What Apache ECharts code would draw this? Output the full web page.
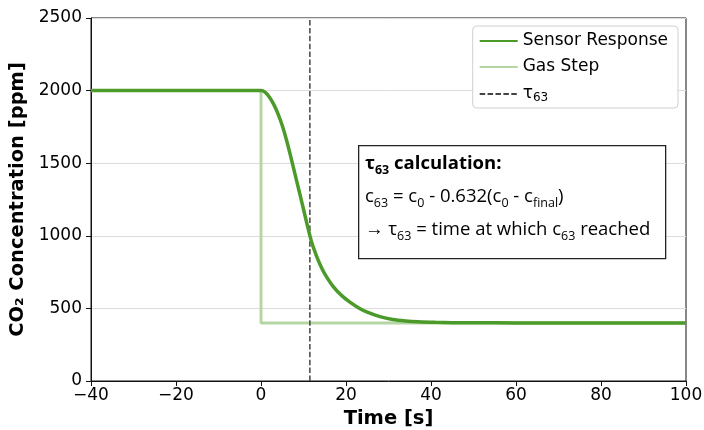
<!DOCTYPE html>
<html>
<head>
<meta charset="utf-8">
<script src="https://cdn.jsdelivr.net/npm/echarts@6/dist/echarts.min.js"></script>
<style>
  html, body { margin: 0; padding: 0; background: #fff; }
  #chart { width: 704px; height: 430px; }
</style>
</head>
<body>
<div id="chart"></div>
<script>
// sensor response (time [s], CO2 [ppm])
const sensorTime = [-40, -1, 0, 1, 2, 3, 4, 5, 6, 7, 8, 9, 10, 11, 12, 13, 14, 15, 17, 19, 21, 23, 25, 28, 31, 34, 37, 41, 45, 50, 60, 80, 100];
const sensorPpm = [2000, 2000, 2000, 1988, 1955, 1905, 1840, 1760, 1660, 1545, 1425, 1305, 1183, 1060, 948, 866, 796, 738, 650, 588, 541, 503, 474, 443, 424, 414, 408, 404, 402, 401, 400, 400, 400];

// gas step
const stepTime = [-40, 0, 0, 100];
const stepPpm = [2000, 2000, 400, 400];

// tau63 marker
const tau63 = 11.5;
const yMin = 0;
const yMax = 2500;

const FONT = "DejaVu Sans";
const BOX_FONT = "Open Sans";

const chart = echarts.init(document.getElementById("chart"));

const zip = (xs, ys) => xs.map((x, i) => [x, ys[i]]);

// rich text styles for the annotation box
const sub = (size, bold) => ({
  fontFamily: BOX_FONT,
  fontSize: size,
  fontWeight: bold ? "bold" : "normal",
  color: "#000",
  lineHeight: 13,
  verticalAlign: "bottom",
});
const main = (size, bold) => ({
  fontFamily: BOX_FONT,
  fontSize: size,
  fontWeight: bold ? "bold" : "normal",
  color: "#000",
  lineHeight: 26,
  verticalAlign: "middle",
});

const option = {
  animation: false,
  backgroundColor: "#fff",
  grid: {
    left: 91,
    right: 18,
    top: 18,
    bottom: 49,
    show: true,
    borderColor: "#111",
    borderWidth: 1,
    containLabel: false,
    outerBoundsMode: "none",
  },
  legend: {
    orient: "vertical",
    right: 26,
    top: 26,
    padding: [6, 10, 4, 6],
    itemWidth: 38,
    itemHeight: 14,
    itemGap: 8,
    backgroundColor: "#fff",
    borderColor: "#d0d0d0",
    borderWidth: 1,
    borderRadius: 4,
    itemStyle: { opacity: 0 },
    textStyle: {
      fontFamily: FONT,
      fontSize: 17,
      color: "#000",
      lineHeight: 18,
      rich: {
        t: { fontFamily: FONT, fontSize: 17, color: "#000", lineHeight: 20, verticalAlign: "middle" },
        s: { fontFamily: FONT, fontSize: 12, color: "#000", lineHeight: 10, verticalAlign: "bottom" },
      },
    },
    formatter: (name) => (name === "tau63" ? "{t|τ}{s|63}" : name),
    data: ["Sensor Response", "Gas Step", "tau63"],
  },
  xAxis: {
    type: "value",
    min: -40,
    max: 100,
    interval: 20,
    name: "Time [s]",
    nameLocation: "middle",
    nameGap: 28,
    nameTextStyle: { fontFamily: FONT, fontSize: 19.5, fontWeight: "bold", color: "#000" },
    axisLine: { show: true, onZero: false, lineStyle: { color: "#111", width: 1 } },
    axisTick: { show: true, inside: false, length: 5, lineStyle: { color: "#111" } },
    axisLabel: {
      fontFamily: FONT,
      fontSize: 17,
      color: "#000",
      margin: 6,
      formatter: (v) => (v < 0 ? "\u2212" + Math.abs(v) : String(v)),
    },
    splitLine: { show: false },
  },
  yAxis: {
    type: "value",
    min: yMin,
    max: yMax,
    interval: 500,
    name: "CO\u2082 Concentration [ppm]",
    nameLocation: "middle",
    nameGap: 55,
    nameTextStyle: { fontFamily: FONT, fontSize: 19.5, fontWeight: "bold", color: "#000" },
    axisLine: { show: true, onZero: false, lineStyle: { color: "#111", width: 1 } },
    axisTick: { show: true, inside: false, length: 5, lineStyle: { color: "#111" } },
    axisLabel: {
      fontFamily: FONT,
      fontSize: 17,
      color: "#000",
      margin: 9,
      formatter: (v) => String(v),
    },
    splitLine: { show: true, lineStyle: { color: "#dcdcdc", width: 1 } },
  },
  series: [
    {
      name: "Sensor Response",
      type: "line",
      data: zip(sensorTime, sensorPpm),
      showSymbol: false,
      symbol: "none",
      smooth: 0.3,
      lineStyle: { color: "#4c9a2a", width: 3.5 },
      itemStyle: { color: "#4c9a2a" },
      z: 5,
    },
    {
      name: "Gas Step",
      type: "line",
      data: zip(stepTime, stepPpm),
      showSymbol: false,
      symbol: "none",
      lineStyle: { color: "#b4d6a4", width: 3 },
      itemStyle: { color: "#b4d6a4" },
      z: 3,
    },
    {
      name: "tau63",
      type: "line",
      data: [[tau63, yMin], [tau63, yMax]],
      showSymbol: false,
      symbol: "none",
      lineStyle: { color: "#444", width: 1.5, type: [5.5, 2.4] },
      itemStyle: { color: "#444" },
      z: 4,
    },
  ],
  graphic: [
    {
      type: "rect",
      left: 358,
      top: 145,
      shape: { width: 307, height: 113 },
      style: { fill: "#fff", stroke: "#222", lineWidth: 1.3 },
      z: 100,
    },
    {
      type: "text",
      left: 365,
      top: 154,
      z: 101,
      style: {
        text: "{b|τ}{bs|63}{b| calculation:}",
        rich: { b: main(18.5, true), bs: sub(12.5, true) },
      },
    },
    {
      type: "text",
      left: 365,
      top: 187,
      z: 101,
      style: {
        text: "{m|c}{s|63}{m| = c}{s|0}{m| - 0.632(c}{s|0}{m| - c}{s|final}{m|)}",
        rich: { m: main(18.5, false), s: sub(12.5, false) },
      },
    },
    {
      type: "text",
      left: 365,
      top: 220,
      z: 101,
      style: {
        text: "{m|\u2192 τ}{s|63}{m| = time at which c}{s|63}{m| reached}",
        rich: { m: main(18.5, false), s: sub(12.5, false) },
      },
    },
  ],
};

chart.setOption(option);
</script>
</body>
</html>
